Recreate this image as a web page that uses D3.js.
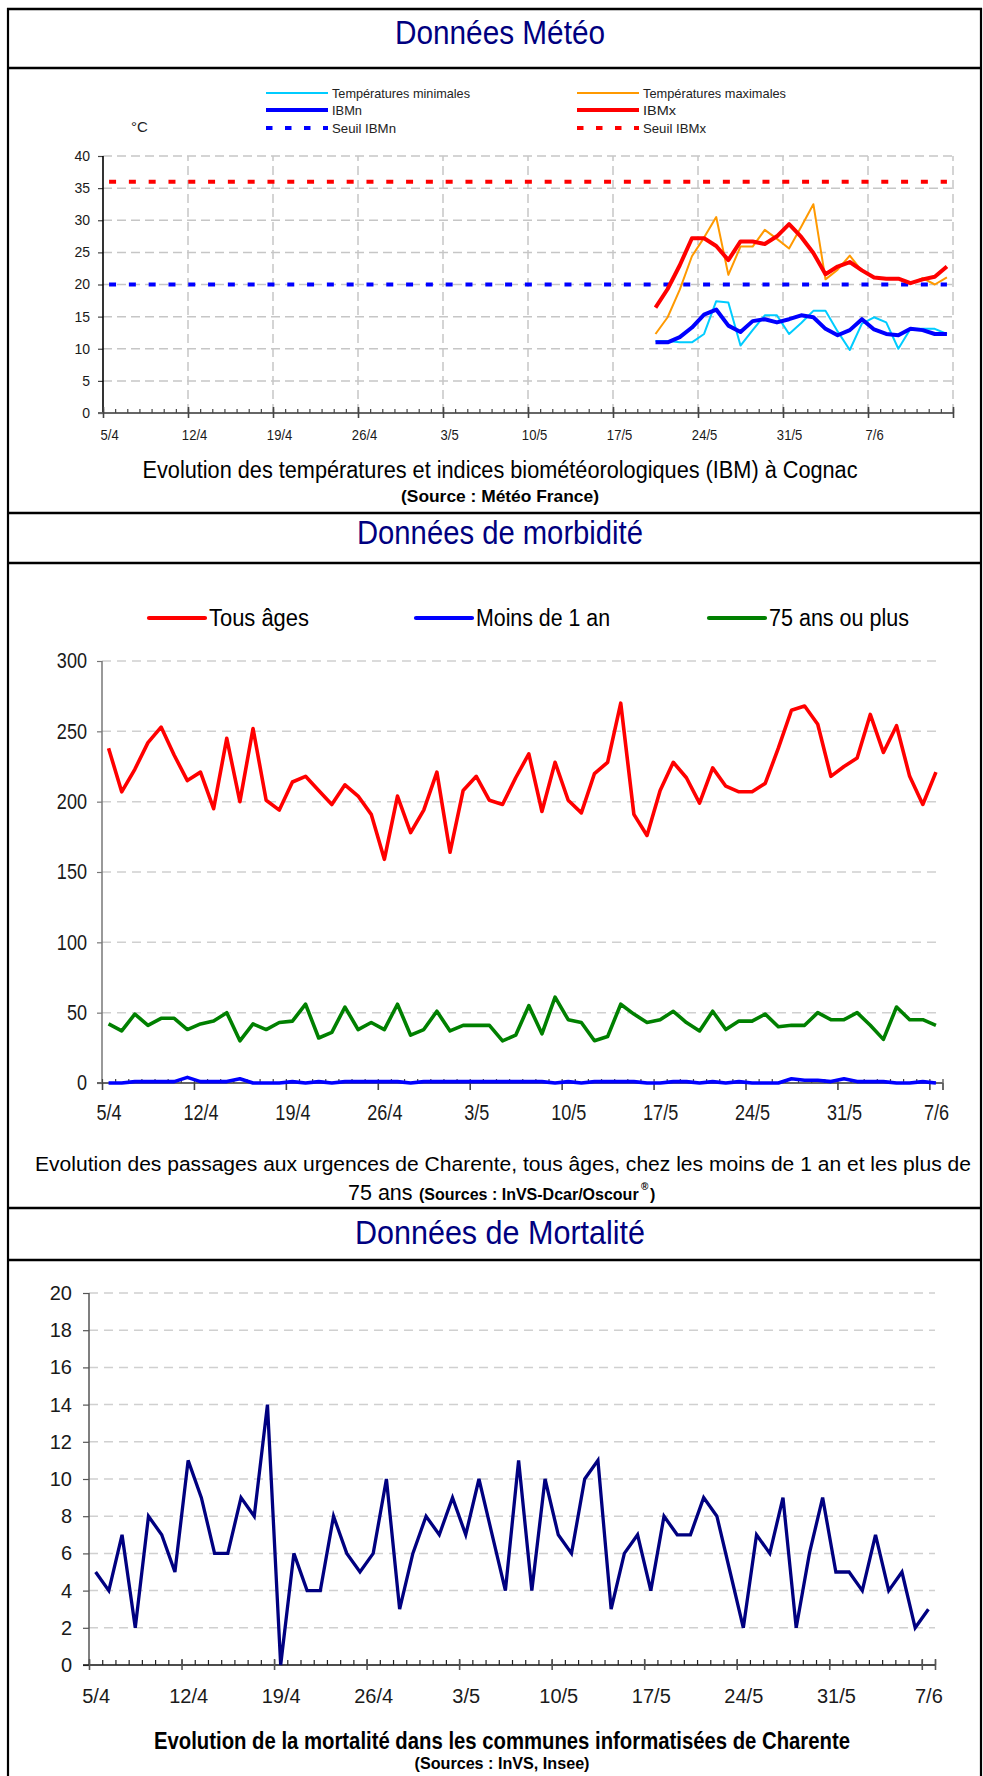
<!DOCTYPE html>
<html><head><meta charset="utf-8">
<script src="https://cdn.jsdelivr.net/npm/d3@7"></script>
<style>
html,body{margin:0;padding:0;background:#fff;}
svg{display:block;}
</style></head>
<body>
<svg id="c" width="983" height="1776"></svg>
<script>
// ================= DATA =================
// --- Chart 1 : Météo (Cognac) ---
const meteoTickLabels = ["5/4","12/4","19/4","26/4","3/5","10/5","17/5","24/5","31/5","7/6"];
const meteoTickDays   = [0,7,14,21,28,35,42,49,56,63];
const meteoNbDays = 70;          // 5/4 .. 13/6
const meteoStartDay = 45;        // first measured day = 20/5
const meteoYTicks = [0,5,10,15,20,25,30,35,40];
const tempMin = [11.2,11.2,11.0,11.0,12.3,17.4,17.2,10.5,12.9,15.2,15.2,12.3,14.0,15.9,15.9,12.7,9.8,13.9,14.9,14.1,10.0,13.1,13.1,13.1,12.3];
const tempMax = [12.3,14.9,19.2,24.4,27.3,30.5,21.5,25.9,25.9,28.5,27.1,25.6,29.0,32.5,20.8,22.3,24.5,22.1,21.1,20.9,20.9,20.1,21.0,20.0,21.1];
const ibmn    = [11.0,11.0,11.8,13.3,15.3,16.1,13.6,12.6,14.3,14.6,14.1,14.6,15.2,14.9,13.1,12.1,12.9,14.6,13.0,12.3,12.1,13.1,12.9,12.3,12.3];
const ibmx    = [16.4,19.3,23.0,27.2,27.2,26.0,23.8,26.7,26.7,26.3,27.5,29.4,27.4,24.9,21.6,22.8,23.5,22.2,21.1,20.9,20.9,20.2,20.8,21.2,22.8];
const seuilIBMn = 20;
const seuilIBMx = 36;

// --- Chart 2 : Morbidité (passages aux urgences) ---
const urgTickLabels = ["5/4","12/4","19/4","26/4","3/5","10/5","17/5","24/5","31/5","7/6"];
const urgTickDays   = [0,7,14,21,28,35,42,49,56,63];
const urgNbDays = 64;            // 5/4 .. 7/6
const urgYTicks = [0,50,100,150,200,250,300];
const tousAges = [238,207,223,242,253,233,215,221,195,245,200,252,201,194,214,218,208,198,212,204,191,159,204,178,194,221,164,208,218,201,198,217,
                  234,193,228,201,192,220,228,270,191,176,208,228,217,199,224,211,207,207,213,238,265,268,255,218,225,231,262,235,254,218,198,221];
const moins1an = [0,0,1,1,1,1,4,1,1,1,3,0,0,0,1,0,1,0,1,1,1,1,1,0,1,1,1,1,1,1,1,1,
                  1,1,0,1,0,1,1,1,1,0,0,1,1,0,1,0,1,0,0,0,3,2,2,1,3,1,1,1,0,0,1,0];
const plus75   = [42,37,49,41,46,46,38,42,44,50,30,42,38,43,44,56,32,36,54,38,43,38,56,34,38,51,37,41,41,41,30,34,
                  55,35,61,45,43,30,33,56,49,43,45,51,43,37,51,38,44,44,49,40,41,41,50,45,45,50,41,31,54,45,45,41];

// --- Chart 3 : Mortalité ---
const mortTickLabels = ["5/4","12/4","19/4","26/4","3/5","10/5","17/5","24/5","31/5","7/6"];
const mortTickDays   = [0,7,14,21,28,35,42,49,56,63];
const mortNbDays = 64;
const mortYTicks = [0,2,4,6,8,10,12,14,16,18,20];
const deces = [5,4,7,2,8,7,5,11,9,6,6,9,8,14,0,6,4,4,8,6,5,6,10,3,6,8,7,9,7,10,
               7,4,11,4,10,7,6,10,11,3,6,7,4,8,7,7,9,8,5,2,7,6,9,2,6,9,5,5,4,7,4,5,2,3];

// ================= DRAWING =================
const svg = d3.select("#c");
const NARROW = "'Liberation Sans Narrow','Arial Narrow','Liberation Sans',Arial,sans-serif";
const SANS = "'Liberation Sans',Arial,Helvetica,sans-serif";
const NAVY = "#00007f";

function txt(x, y, s, o) {
  const t = svg.append("text").attr("x", x).attr("y", y).text(s)
    .attr("font-family", o.family || NARROW).attr("font-size", o.size)
    .attr("fill", o.fill || "#000").attr("text-anchor", o.anchor || "start");
  if (o.weight) t.attr("font-weight", o.weight);
  if (o.len) t.attr("textLength", o.len).attr("lengthAdjust", "spacingAndGlyphs");
  return t;
}

// ---- frame ----
const fr = svg.append("g").attr("stroke", "#000").attr("fill", "none");
[9, 68, 513, 563, 1208, 1260].forEach(y =>
  fr.append("line").attr("x1", 7).attr("x2", 982).attr("y1", y).attr("y2", y).attr("stroke-width", 2.6));
fr.append("line").attr("x1", 8).attr("x2", 8).attr("y1", 8).attr("y2", 1776).attr("stroke-width", 2.2);
fr.append("line").attr("x1", 981).attr("x2", 981).attr("y1", 8).attr("y2", 1776).attr("stroke-width", 2.2);

// ---- titles ----
txt(500, 44, "Données Météo", {size: 34, fill: NAVY, anchor: "middle", len: 210});
txt(500, 544, "Données de morbidité", {size: 34, fill: NAVY, anchor: "middle", len: 286});
txt(500, 1244, "Données de Mortalité", {size: 34, fill: NAVY, anchor: "middle", len: 290});

// ---- helpers for axes ----
function styleAxis(g, o) {
  g.select(".domain").remove();
  g.selectAll(".tick line").attr("stroke", o.tickColor || "#444").attr("stroke-width", o.tickWidth || 1.2);
  g.selectAll(".tick text").attr("font-family", o.family || SANS).attr("font-size", o.size || 14)
    .attr("fill", o.fill || "#1a1a1a");
  if (o.squeeze) {
    g.selectAll(".tick text").each(function () {
      const w = this.getComputedTextLength();
      d3.select(this).attr("textLength", w * o.squeeze).attr("lengthAdjust", "spacingAndGlyphs");
    });
  }
  return g;
}

// ================= CHART 1 =================
(function () {
  const X0 = 103, X1 = 953, Y0 = 413, YT = 156;
  const x = d3.scaleLinear().domain([0, meteoNbDays]).range([X0, X1]);
  const y = d3.scaleLinear().domain([0, 40]).range([Y0, YT]);
  const g = svg.append("g");

  // grid
  g.selectAll(".hg").data(meteoYTicks.filter(v => v > 0)).join("line")
    .attr("x1", x(0)).attr("x2", x(meteoNbDays)).attr("y1", d => y(d)).attr("y2", d => y(d))
    .attr("stroke", "#c6c6c6").attr("stroke-width", 1.5).attr("stroke-dasharray", "9,5");
  g.selectAll(".vg").data(meteoTickDays.slice(1).concat([meteoNbDays])).join("line")
    .attr("x1", d => x(d)).attr("x2", d => x(d)).attr("y1", y(0)).attr("y2", y(40))
    .attr("stroke", "#c6c6c6").attr("stroke-width", 1.5).attr("stroke-dasharray", "9,5");

  // y axis
  styleAxis(g.append("g").attr("transform", `translate(${X0},0)`)
    .call(d3.axisLeft(y).tickValues(meteoYTicks).tickSize(5).tickPadding(8)), {size: 14});
  g.append("line").attr("x1", X0).attr("x2", X0).attr("y1", y(40)).attr("y2", y(0))
    .attr("stroke", "#000").attr("stroke-width", 1.6);

  // x axis
  g.append("line").attr("x1", X0 - 5).attr("x2", X1).attr("y1", Y0).attr("y2", Y0)
    .attr("stroke", "#666").attr("stroke-width", 2);
  styleAxis(g.append("g").attr("transform", `translate(0,${Y0})`)
    .call(d3.axisBottom(x).tickValues(d3.range(0, meteoNbDays + 1)).tickSize(-4).tickFormat("")), {});
  styleAxis(g.append("g").attr("transform", `translate(0,${Y0})`)
    .call(d3.axisBottom(x).tickValues(meteoTickDays.concat([meteoNbDays])).tickSize(5).tickFormat("")), {tickWidth: 1.6});
  styleAxis(g.append("g").attr("transform", `translate(0,${Y0})`)
    .call(d3.axisBottom(x).tickValues(meteoTickDays.concat([meteoNbDays])).tickSize(-6).tickFormat("")), {tickWidth: 1.6});
  styleAxis(g.append("g").attr("transform", `translate(0,${Y0})`)
    .call(d3.axisBottom(x).tickValues(meteoTickDays.map(d => d + 0.5)).tickSize(0).tickPadding(17)
      .tickFormat((d, i) => meteoTickLabels[i])), {size: 14.5, squeeze: 0.9});

  // thresholds
  const thr = d3.line().x(d => x(d[0] + 0.5)).y(d => y(d[1]));
  g.append("path").attr("d", thr([[0, seuilIBMx], [meteoNbDays - 1, seuilIBMx]]))
    .attr("stroke", "#ff0000").attr("stroke-width", 4).attr("fill", "none").attr("stroke-dasharray", "7,12.8");
  g.append("path").attr("d", thr([[0, seuilIBMn], [meteoNbDays - 1, seuilIBMn]]))
    .attr("stroke", "#0000ff").attr("stroke-width", 4).attr("fill", "none").attr("stroke-dasharray", "7,12.8");

  const line = d3.line().x((d, i) => x(meteoStartDay + i + 0.5)).y(d => y(d));
  const draw = (data, col, w) => g.append("path").attr("d", line(data)).attr("fill", "none")
    .attr("stroke", col).attr("stroke-width", w).attr("stroke-linejoin", "round");
  draw(tempMin, "#00ccff", 2);
  draw(tempMax, "#ff9900", 2);
  draw(ibmn, "#0000ff", 4);
  draw(ibmx, "#ff0000", 4);

  // legend
  const L = svg.append("g");
  const items = [
    {x: 266, y: 93, col: "#00ccff", w: 2, dash: null, t: "Températures minimales", len: 138},
    {x: 577, y: 93, col: "#ff9900", w: 2, dash: null, t: "Températures maximales", len: 143},
    {x: 266, y: 110, col: "#0000ff", w: 4, dash: null, t: "IBMn", len: 30},
    {x: 577, y: 110, col: "#ff0000", w: 4, dash: null, t: "IBMx", len: 33},
    {x: 266, y: 128, col: "#0000ff", w: 4, dash: "6.5,12.5", t: "Seuil IBMn", len: 64},
    {x: 577, y: 128, col: "#ff0000", w: 4, dash: "6.5,12.5", t: "Seuil IBMx", len: 63}
  ];
  items.forEach(it => {
    const l = L.append("line").attr("x1", it.x).attr("x2", it.x + 62).attr("y1", it.y).attr("y2", it.y)
      .attr("stroke", it.col).attr("stroke-width", it.w);
    if (it.dash) l.attr("stroke-dasharray", it.dash);
    txt(it.x + 66, it.y + 4.5, it.t, {size: 13, fill: "#222", len: it.len});
  });
  txt(131, 132, "°C", {size: 15, family: SANS, fill: "#222"});

  // caption
  txt(500, 478, "Evolution des températures et indices biométéorologiques (IBM) à Cognac", {size: 23, anchor: "middle", len: 715});
  txt(500, 502, "(Source : Météo France)", {size: 17, weight: "bold", anchor: "middle", len: 198});
})();

// ================= CHART 2 =================
(function () {
  const X0 = 102, X1 = 942.5, Y0 = 1083, YT = 661;
  const x = d3.scaleLinear().domain([0, urgNbDays]).range([X0, X1]);
  const y = d3.scaleLinear().domain([0, 300]).range([Y0, YT]);
  const g = svg.append("g");

  g.selectAll(".hg").data(urgYTicks.filter(v => v > 0)).join("line")
    .attr("x1", X0).attr("x2", 940).attr("y1", d => y(d)).attr("y2", d => y(d))
    .attr("stroke", "#d0d0d0").attr("stroke-width", 1.5).attr("stroke-dasharray", "9,6");

  styleAxis(g.append("g").attr("transform", `translate(${X0},0)`)
    .call(d3.axisLeft(y).tickValues(urgYTicks).tickSize(5).tickPadding(10)), {size: 21.5, tickColor: "#777", squeeze: 0.84});
  g.append("line").attr("x1", X0).attr("x2", X0).attr("y1", YT).attr("y2", Y0)
    .attr("stroke", "#777").attr("stroke-width", 1.5);

  g.append("line").attr("x1", X0 - 5).attr("x2", X1).attr("y1", Y0).attr("y2", Y0)
    .attr("stroke", "#666").attr("stroke-width", 2);
  styleAxis(g.append("g").attr("transform", `translate(0,${Y0})`)
    .call(d3.axisBottom(x).tickValues(d3.range(0, urgNbDays + 1)).tickSize(-4).tickFormat("")), {});
  styleAxis(g.append("g").attr("transform", `translate(0,${Y0})`)
    .call(d3.axisBottom(x).tickValues(urgTickDays.concat([urgNbDays])).tickSize(7).tickFormat("")), {tickWidth: 1.6});
  styleAxis(g.append("g").attr("transform", `translate(0,${Y0})`)
    .call(d3.axisBottom(x).tickValues(urgTickDays.map(d => d + 0.5)).tickSize(0).tickPadding(22)
      .tickFormat((d, i) => urgTickLabels[i])), {size: 21.5, squeeze: 0.84});

  const line = d3.line().x((d, i) => x(i + 0.5)).y(d => y(d));
  const draw = (data, col) => g.append("path").attr("d", line(data)).attr("fill", "none")
    .attr("stroke", col).attr("stroke-width", 3.6).attr("stroke-linejoin", "round");
  draw(tousAges, "#ff0000");
  draw(plus75, "#008000");
  draw(moins1an, "#0000ff");

  // legend
  const leg = [
    {x: 149, col: "#ff0000", t: "Tous âges", len: 100},
    {x: 416, col: "#0000ff", t: "Moins de 1 an", len: 134},
    {x: 709, col: "#008000", t: "75 ans ou plus", len: 140}
  ];
  leg.forEach(it => {
    g.append("line").attr("x1", it.x).attr("x2", it.x + 56).attr("y1", 618).attr("y2", 618)
      .attr("stroke", it.col).attr("stroke-width", 4.2).attr("stroke-linecap", "round");
    txt(it.x + 60, 626, it.t, {size: 23, len: it.len});
  });

  // caption
  txt(503, 1171, "Evolution des passages aux urgences de Charente, tous âges, chez les moins de 1 an et les plus de",
      {size: 20.5, anchor: "middle", len: 936});
  txt(348, 1200, "75 ans", {size: 21.5});
  txt(419, 1200, "(Sources : InVS-Dcar/Oscour", {size: 16, weight: "bold"});
  txt(641, 1190, "®", {size: 10, weight: "bold", family: SANS});
  txt(650, 1200, ")", {size: 16, weight: "bold"});
})();

// ================= CHART 3 =================
(function () {
  const X0 = 89, X1 = 935, Y0 = 1665, YT = 1293;
  const x = d3.scaleLinear().domain([0, mortNbDays]).range([X0, X1]);
  const y = d3.scaleLinear().domain([0, 20]).range([Y0, YT]);
  const g = svg.append("g");

  g.selectAll(".hg").data(mortYTicks.filter(v => v > 0)).join("line")
    .attr("x1", X0).attr("x2", X1).attr("y1", d => y(d)).attr("y2", d => y(d))
    .attr("stroke", "#d0d0d0").attr("stroke-width", 1.5).attr("stroke-dasharray", "9,6");

  styleAxis(g.append("g").attr("transform", `translate(${X0},0)`)
    .call(d3.axisLeft(y).tickValues(mortYTicks).tickSize(6).tickPadding(11)), {size: 20, tickColor: "#555"});
  g.append("line").attr("x1", X0).attr("x2", X0).attr("y1", YT).attr("y2", Y0)
    .attr("stroke", "#555").attr("stroke-width", 1.5);

  g.append("line").attr("x1", X0 - 6).attr("x2", X1).attr("y1", Y0).attr("y2", Y0)
    .attr("stroke", "#111").attr("stroke-width", 1.6);
  styleAxis(g.append("g").attr("transform", `translate(0,${Y0})`)
    .call(d3.axisBottom(x).tickValues(d3.range(0, mortNbDays + 1)).tickSize(-5).tickFormat("")), {tickColor: "#222"});
  styleAxis(g.append("g").attr("transform", `translate(0,${Y0})`)
    .call(d3.axisBottom(x).tickValues(mortTickDays.concat([mortNbDays])).tickSize(5).tickFormat("")), {tickColor: "#555", tickWidth: 1.6});
  styleAxis(g.append("g").attr("transform", `translate(0,${Y0})`)
    .call(d3.axisBottom(x).tickValues(mortTickDays.concat([mortNbDays])).tickSize(-6).tickFormat("")), {tickColor: "#555", tickWidth: 1.6});
  styleAxis(g.append("g").attr("transform", `translate(0,${Y0})`)
    .call(d3.axisBottom(x).tickValues(mortTickDays.map(d => d + 0.5)).tickSize(0).tickPadding(24)
      .tickFormat((d, i) => mortTickLabels[i])), {size: 20});

  const line = d3.line().x((d, i) => x(i + 0.5)).y(d => y(d));
  g.append("path").attr("d", line(deces)).attr("fill", "none")
    .attr("stroke", "#000080").attr("stroke-width", 3.3).attr("stroke-linejoin", "miter");

  txt(502, 1749, "Evolution de la mortalité dans les communes informatisées de Charente",
      {size: 23, weight: "bold", anchor: "middle", len: 696});
  txt(502, 1769, "(Sources : InVS, Insee)", {size: 16, weight: "bold", anchor: "middle", len: 175});
})();
</script>
</body></html>
